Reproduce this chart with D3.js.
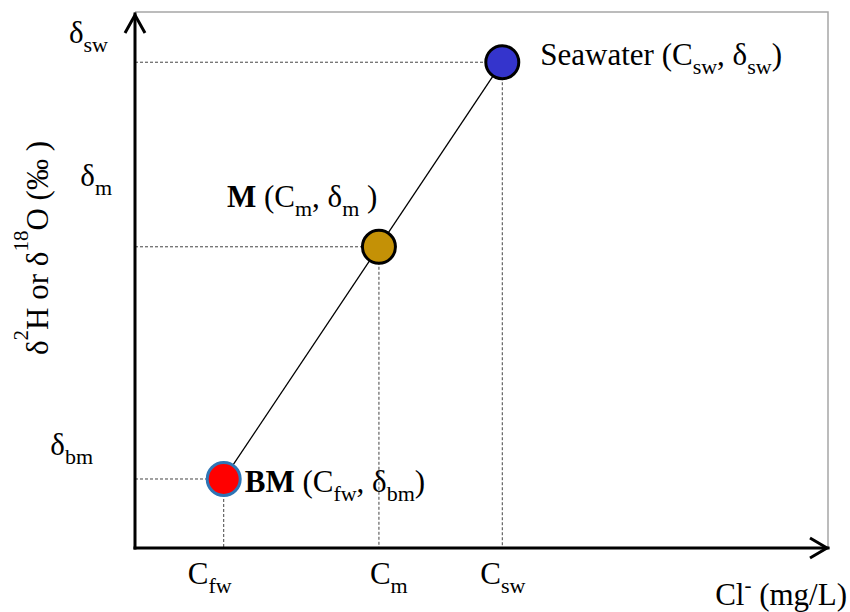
<!DOCTYPE html>
<html>
<head>
<meta charset="utf-8">
<script src="https://cdn.jsdelivr.net/npm/d3@7"></script>
<style>
  html, body { margin: 0; padding: 0; background: #fff; }
  svg { display: block; font-family: "Liberation Serif", "Times New Roman", serif; }
</style>
</head>
<body>
<svg id="chart" width="850" height="612"></svg>
<script>
// End-members and mixture of the two-component mixing model
const pointNames = ["BM", "M", "Seawater"];
const chloride = [12.8, 35.2, 53.0];   // Cl- (relative units)
const delta = [12.9, 56.3, 90.8];      // δ2H or δ18O (relative units)

// Axis tick labels (main symbol + subscript)
const xTickMain = ["C", "C", "C"];
const xTickSub = ["fw", "m", "sw"];
const yTickMain = ["δ", "δ", "δ"];
const yTickSub = ["bm", "m", "sw"];

// Point label contents: [text, kind]
const pointLabels = [
  [["BM", "bold"], [" (C", ""], ["fw", "sub"], [", δ", ""], ["bm", "sub"], [")", ""]],
  [["M", "bold"], [" (C", ""], ["m", "sub"], [", δ", ""], ["m", "sub"], [" )", ""]],
  [["Seawater (C", ""], ["sw", "sub"], [", δ", ""], ["sw", "sub"], [")", ""]]
];

const svg = d3.select("#chart");
const FS = 31, SUB_FS = 22, SUP_FS = 21;

const x = d3.scaleLinear().domain([0, 100]).range([135, 828]);
const y = d3.scaleLinear().domain([0, 100]).range([548, 13]);

const points = pointNames.map((n, i) => ({ name: n, cl: chloride[i], d: delta[i], i }));

// Writes a run of tspans, handling sub/superscripts and bold segments
function richText(sel, parts) {
  let shift = 0;
  parts.forEach(([txt, kind]) => {
    const t = sel.append("tspan").text(txt);
    let target = 0;
    if (kind === "sub") { target = 9; t.attr("font-size", SUB_FS); }
    else if (kind === "sup") { target = -20; t.attr("font-size", SUP_FS); }
    else if (kind === "supm") { target = -13; t.attr("font-size", SUP_FS); }
    if (kind === "bold") t.attr("font-weight", "bold");
    if (target !== shift) t.attr("dy", target - shift);
    shift = target;
  });
}

// Frame (top and right edges)
svg.append("path")
  .attr("d", `M${x(0)},${y(100) - 1}H${x(100)}V${y(0)}`)
  .attr("fill", "none")
  .attr("stroke", "#a6a6a6")
  .attr("stroke-width", 1.5);

// Dotted guide lines to the axes
const guides = svg.append("g")
  .attr("fill", "none")
  .attr("stroke", "#444")
  .attr("stroke-width", 1)
  .attr("stroke-dasharray", "3,2");
guides.selectAll("line.h").data(points).join("line")
  .attr("class", "h")
  .attr("x1", x(0)).attr("x2", d => x(d.cl))
  .attr("y1", d => y(d.d)).attr("y2", d => y(d.d));
guides.selectAll("line.v").data(points).join("line")
  .attr("class", "v")
  .attr("x1", d => x(d.cl)).attr("x2", d => x(d.cl))
  .attr("y1", d => y(d.d)).attr("y2", y(0));

// Mixing line between the end-members
svg.append("path")
  .datum([points[0], points[2]])
  .attr("d", d3.line().x(d => x(d.cl)).y(d => y(d.d)))
  .attr("fill", "none")
  .attr("stroke", "#000")
  .attr("stroke-width", 1.3);

// Axes with open arrowheads
const axes = svg.append("g").attr("fill", "none").attr("stroke", "#000")
  .attr("stroke-width", 3).attr("stroke-linecap", "square");
axes.append("path").attr("d", `M${x(0)},${y(0)}V${y(100) + 1}`);
axes.append("path").attr("d", `M${x(0)},${y(0)}H${x(100)}`);
axes.append("path").attr("stroke-linecap", "butt").attr("stroke-linejoin", "miter")
  .attr("d", `M${x(0) - 10},${y(100) + 20}L${x(0)},${y(100) + 2}L${x(0) + 10},${y(100) + 20}`);
axes.append("path").attr("stroke-linecap", "butt").attr("stroke-linejoin", "miter")
  .attr("d", `M${x(100) - 18},${y(0) - 10}L${x(100) - 1},${y(0)}L${x(100) - 18},${y(0) + 10}`);

// Sample markers
const fills = ["#ff0000", "#c49106", "#3434cc"];
const strokes = ["#2e75b6", "#000", "#000"];
svg.selectAll("circle.pt").data(points).join("circle")
  .attr("class", "pt")
  .attr("cx", d => x(d.cl)).attr("cy", d => y(d.d))
  .attr("r", 16.5)
  .attr("fill", d => fills[d.i])
  .attr("stroke", d => strokes[d.i])
  .attr("stroke-width", 3);

// Point labels
const labelOffset = [[21, 13], [-152, -40], [38, 3]];
svg.selectAll("text.pl").data(points).join("text")
  .attr("class", "pl")
  .attr("x", d => x(d.cl) + labelOffset[d.i][0])
  .attr("y", d => y(d.d) + labelOffset[d.i][1])
  .attr("font-size", FS)
  .each(function (d) { richText(d3.select(this), pointLabels[d.i]); });

// X tick labels
const xTickOffset = [-36, -9, -22];
points.forEach((p, i) => {
  const t = svg.append("text")
    .attr("x", x(p.cl) + xTickOffset[i])
    .attr("y", 584)
    .attr("font-size", FS);
  richText(t, [[xTickMain[i], ""], [xTickSub[i], "sub"]]);
});

// Y tick labels
const yTickPos = [[93, -24], [112, -61], [108, -19]];
points.forEach((p, i) => {
  const t = svg.append("text")
    .attr("x", yTickPos[i][0])
    .attr("y", y(p.d) + yTickPos[i][1])
    .attr("text-anchor", "end")
    .attr("font-size", FS);
  richText(t, [[yTickMain[i], ""], [yTickSub[i], "sub"]]);
});

// Axis titles
const xt = svg.append("text")
  .attr("x", 847).attr("y", 605)
  .attr("text-anchor", "end")
  .attr("font-size", FS);
richText(xt, [["Cl", ""], ["-", "supm"], [" (mg/L)", ""]]);

const yt = svg.append("text")
  .attr("transform", "translate(48,248) rotate(-90)")
  .attr("text-anchor", "middle")
  .attr("font-size", FS);
richText(yt, [["δ", ""], ["2", "sup"], ["H or δ", ""], ["18", "sup"], ["O (‰ )", ""]]);
</script>
</body>
</html>
